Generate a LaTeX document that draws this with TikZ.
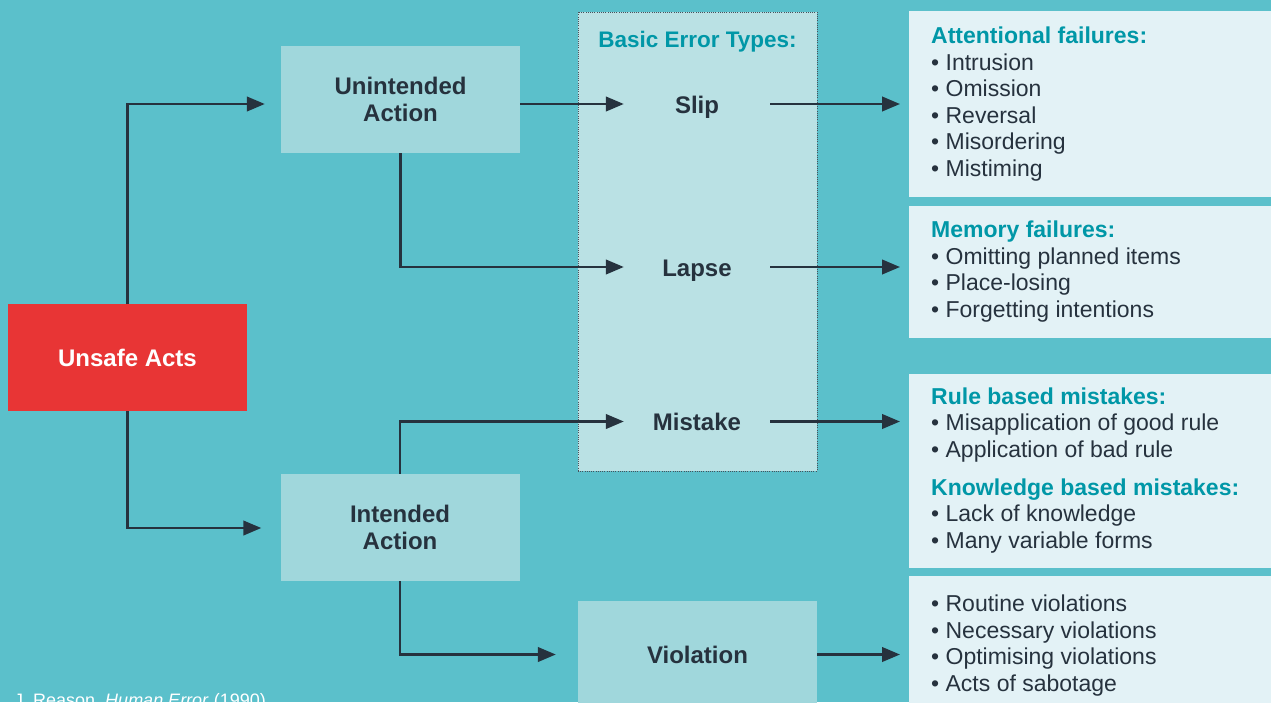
\documentclass[tikz,border=0pt]{standalone}
\usepackage{fontspec}
\setmainfont{Liberation Sans}
\usetikzlibrary{arrows.meta}

\definecolor{bgteal}{HTML}{5BC0CB}
\definecolor{boxfill}{HTML}{A0D7DC}
\definecolor{panelfill}{HTML}{BAE1E4}
\definecolor{notefill}{HTML}{E3F2F6}
\definecolor{alert}{HTML}{E83535}
\definecolor{ink}{HTML}{26323E}
\definecolor{headteal}{HTML}{0097A7}

\newcommand{\hd}[1]{{\color{headteal}\bfseries #1}}
\newcommand{\bul}{\textbullet\ }

\tikzset{
  box/.style={fill=boxfill, minimum width=239pt, minimum height=107pt, inner sep=0pt,
    align=center, text=ink, font=\fontsize{24}{26.5}\selectfont\bfseries},
  errtype/.style={minimum width=146pt, inner sep=0pt, text=ink, text height=21.5pt, text depth=3.5pt,
    font=\fontsize{24}{26.5}\selectfont\bfseries},
  notebox/.style={fill=notefill, minimum width=370pt, inner sep=0pt, anchor=north west},
  notetext/.style={anchor=base west, align=left, inner sep=0pt, text=ink,
    font=\fontsize{23}{26.5}\selectfont},
  link/.style={-{Triangle[length=18pt,width=14.5pt]}, line width=2.5pt, color=ink},
  elbow/.style={to path={|- (\tikztotarget) \tikztonodes}},
}

\begin{document}
\begin{tikzpicture}[x=1pt,y=-1pt]
	\clip (0,0) rectangle (1271,702);
	\fill[bgteal] (0,0) rectangle (1271,702);

	% left side
	\node[box, fill=alert, text=white] (unsafe) at (127.5,357.5) {Unsafe Acts};
	\node[box] (unint) at (400.5,99.5) {Unintended\\Action};
	\node[box] (intend) at (400,527.5) {Intended\\Action};

	% basic error types
	\node[fill=panelfill, draw=ink!85, dash pattern=on 1pt off 1.2pt, line width=0.9pt,
	  minimum width=239pt, minimum height=459pt, inner sep=0pt] (panel) at (697.5,241.5) {};
	\node[text=headteal, font=\fontsize{22.5}{26}\selectfont\bfseries] (ptitle) at (697.5,41.5) {Basic Error Types:};
	\node[errtype] (slip) at (697,104) {Slip};
	\node[errtype] (lapse) at (697,267) {Lapse};
	\node[errtype] (mistake) at (697,421.5) {Mistake};
	\node[box] (viol) at (697.5,654.5) {Violation};

	% notes (last line sits on the anchor)
	\node[notebox, minimum height=186pt] (n1) at (909,11) {};
	\node[notebox, minimum height=132pt] (n2) at (909,206) {};
	\node[notebox, minimum height=194pt] (n3) at (909,374) {};
	\node[notebox, minimum height=140pt] (n4) at (909,576) {};

	\node[notetext] (t1) at (931,176) {\hd{Attentional failures:}\\ \bul Intrusion\\ \bul Omission\\
	  \bul Reversal\\ \bul Misordering\\ \bul Mistiming};
	\node[notetext] (t2) at (931,317) {\hd{Memory failures:}\\ \bul Omitting planned items\\
	  \bul Place-losing\\ \bul Forgetting intentions};
	\node[notetext] (t3) at (931,548) {\hd{Rule based mistakes:}\\ \bul Misapplication of good rule\\
	  \bul Application of bad rule\\[11.5pt] \hd{Knowledge based mistakes:}\\ \bul Lack of knowledge\\
	  \bul Many variable forms};
	\node[notetext] (t4) at (931,691) {\bul Routine violations\\ \bul Necessary violations\\
	  \bul Optimising violations\\ \bul Acts of sabotage};

	\node[anchor=base west, inner sep=0pt, text=white, font=\fontsize{18}{20}\selectfont] (cite) at (14,706)
	  {J. Reason, \textit{Human Error} (1990)};

	% connectors
	\path [link] (unsafe.north) edge[elbow, shorten >=16pt] ([yshift=-4.5pt]unint.west);
	\path [link] (unsafe.south) edge[elbow, shorten >=19pt] ([yshift=-0.5pt]intend.west);
	\path [link] ([yshift=-4.5pt]unint.east) edge (slip.west);
	\path [link] (unint.south) edge[elbow] (lapse.west);
	\path [link] (intend.north) edge[elbow] (mistake.west);
	\path [link] (intend.south) edge[elbow, shorten >=22pt] (viol.west);
	\path [link] (slip.east) edge[shorten >=9pt] (slip.east -| n1.west);
	\path [link] (lapse.east) edge[shorten >=9pt] (lapse.east -| n2.west);
	\path [link] (mistake.east) edge[shorten >=9pt] (mistake.east -| n3.west);
	\path [link] (viol.east) edge[shorten >=9pt] (viol.east -| n4.west);
\end{tikzpicture}
\end{document}
